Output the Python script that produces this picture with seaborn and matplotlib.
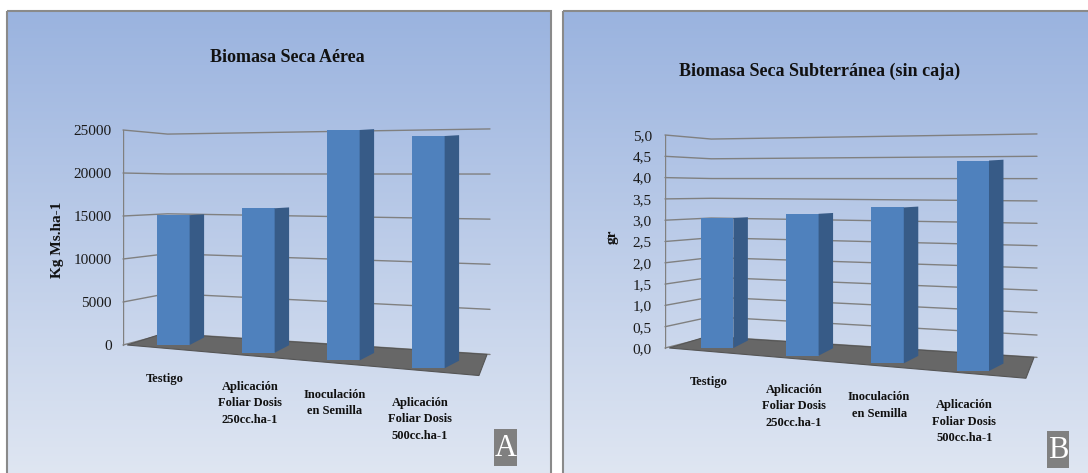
import numpy as np
import matplotlib
matplotlib.use("Agg")
import matplotlib.pyplot as plt
from matplotlib.patches import Polygon, Rectangle
from matplotlib.colors import LinearSegmentedColormap
from matplotlib.ticker import FuncFormatter
import seaborn as sns

# ---- data -------------------------------------------------------------
categories = [
    "Testigo",
    "Aplicación\nFoliar Dosis\n250cc.ha-1",
    "Inoculación\nen Semilla",
    "Aplicación\nFoliar Dosis\n500cc.ha-1",
]
aerea_kg = [15100, 15900, 25000, 24300]
subterranea_gr = [3.05, 3.15, 3.30, 4.40]
aerea_ticks = [0, 5000, 10000, 15000, 20000, 25000]
subterranea_ticks = [0.0, 0.5, 1.0, 1.5, 2.0, 2.5, 3.0, 3.5, 4.0, 4.5, 5.0]
titles = ["Biomasa Seca Aérea", "Biomasa Seca Subterránea (sin caja)"]
ylabels = ["Kg Ms.ha-1", "gr"]
panel_letters = ["A", "B"]

# ---- style ------------------------------------------------------------
sns.set_theme(style="white")
plt.rcParams["font.family"] = ["Liberation Serif", "DejaVu Serif"]

FRONT = "#4f81bd"
SIDE = "#375b87"
FLOOR = "#676767"
GRID = "#808080"
BG_TOP = "#9ab3df"
BG_BOTTOM = "#dfe6f2"
BORDER = "#8a8a8a"

W, H = 1088, 473
fig = plt.figure(figsize=(W / 100, H / 100), dpi=100)

# background cards with a vertical gradient
bg = fig.add_axes([0, 0, 1, 1])
bg.set_zorder(-1)
cmap = LinearSegmentedColormap.from_list("card", [BG_TOP, BG_BOTTOM])
grad = np.linspace(0, 1, 256)[:, None]
cards = [(7, 551, 11), (563, 1095, 11)]
for x0, x1, y0 in cards:
    bg.imshow(grad, extent=(x0, x1, H + 2, y0), cmap=cmap, aspect="auto",
              interpolation="bilinear")
    bg.add_patch(Rectangle((x0, y0), x1 - x0, H - y0 + 10, fill=False,
                           edgecolor=BORDER, lw=1.5))
bg.set_xlim(0, W)
bg.set_ylim(H, 0)
bg.axis("off")


def px_axes(left, top, right, bottom):
    return [left / W, (H - bottom) / H, (right - left) / W, (bottom - top) / H]


def draw_panel(values, ticks, title, ylabel, letter, geo, fmt):
    left, right, top, bottom = geo["left"], geo["right"], geo["top"], geo["bottom"]
    S = ticks[-1]
    k = (geo["zero"] - geo["full"]) / S
    ax = fig.add_axes(px_axes(left, top, right, bottom))
    ax.set_zorder(1)
    ax.set_facecolor("none")

    sns.barplot(x=categories, y=values, ax=ax, color=FRONT, width=0.38,
                saturation=1, errorbar=None, edgecolor="none", zorder=3)

    xmin = (left - geo["c0"]) / geo["step"]
    xmax = (right - geo["c0"]) / geo["step"]
    ax.set_xlim(xmin, xmax)
    ax.set_ylim((geo["zero"] - bottom) / k, (geo["zero"] - top) / k)

    # walls: left wall segment, then back wall, for each gridline value
    xb = -0.07
    for v in ticks:
        ax.plot([xmin, xb, xmax],
                [v, 0.054 * S + 0.927 * v, -0.044 * S + 1.049 * v],
                color=GRID, lw=1.0, zorder=1, clip_on=False)
    ax.plot([xmin, xmin], [0, S], color=GRID, lw=1.0, zorder=1)

    # floor
    floor = Polygon([(xmin + 0.05, 0), (xb - 0.05, 0.054 * S),
                     (xmax - 0.035, -0.044 * S), (xmax - 0.13, -0.142 * S)],
                    closed=True, facecolor=FLOOR, edgecolor="#555555",
                    lw=0.8, zorder=2, clip_on=False)
    ax.add_patch(floor)

    # depth for each bar: base on the floor and a shaded side face
    depth = 0.17
    for i, bar in enumerate(ax.patches[:len(values)]):
        x0, w, v = bar.get_x(), bar.get_width(), bar.get_height()
        base = -0.036 * S * i
        if base < 0:
            ax.add_patch(Rectangle((x0, base), w, -base, facecolor=FRONT,
                                   edgecolor="none", zorder=3, clip_on=False))
        xr = x0 + w
        ax.add_patch(Polygon([(xr, v), (xr + depth, v + 0.004 * S),
                              (xr + depth, base + 0.035 * S), (xr, base)],
                             closed=True, facecolor=SIDE, edgecolor="none",
                             zorder=3, clip_on=False))
        ax.text(i - 0.1, -0.13 * S - 0.037 * S * i, categories[i],
                ha="center", va="top", ma="center", fontsize=9,
                linespacing=1.5, fontweight="bold", color="#111111",
                clip_on=False)

    ax.set_xticks([])
    ax.set_xlabel("")
    ax.set_yticks(ticks)
    ax.yaxis.set_major_formatter(FuncFormatter(fmt))
    ax.tick_params(axis="y", length=0, pad=geo["pad"], labelsize=11,
                   labelcolor="#1a1a1a")
    for s in ax.spines.values():
        s.set_visible(False)
    ax.grid(False)

    ax.set_ylabel(ylabel, fontsize=11, fontweight="bold", color="#111111")
    ax.yaxis.set_label_coords(*geo["ylabel_at"])

    fig.text(geo["title_xy"][0] / W, 1 - geo["title_xy"][1] / H, title,
             ha="center", va="center", fontsize=13, fontweight="bold",
             color="#111111")

    bx, by, bw, bh = geo["letter_box"]
    bg.add_patch(Rectangle((bx, by), bw, bh, facecolor="#808080",
                           edgecolor="none"))
    bg.text(bx + bw / 2, by + bh / 2 + 1, letter, ha="center", va="center",
            fontsize=22, color="white")
    return ax


geo_a = dict(left=123, right=490, top=120, bottom=385, zero=345, full=130,
             c0=173.5, step=85.0, pad=8, ylabel_at=(-0.161, 0.547),
             title_xy=(287, 57), letter_box=(494, 429, 23, 37))
geo_b = dict(left=665, right=1037, top=122, bottom=390, zero=348, full=135,
             c0=717.2, step=85.2, pad=9.5, ylabel_at=(-0.126, 0.57),
             title_xy=(820, 71), letter_box=(1047, 431, 22, 37))

draw_panel(aerea_kg, aerea_ticks, titles[0], ylabels[0], panel_letters[0],
           geo_a, lambda v, p: f"{v:.0f}")
draw_panel(subterranea_gr, subterranea_ticks, titles[1], ylabels[1],
           panel_letters[1], geo_b, lambda v, p: f"{v:.1f}".replace(".", ","))

fig.savefig("out.png", dpi=100)
